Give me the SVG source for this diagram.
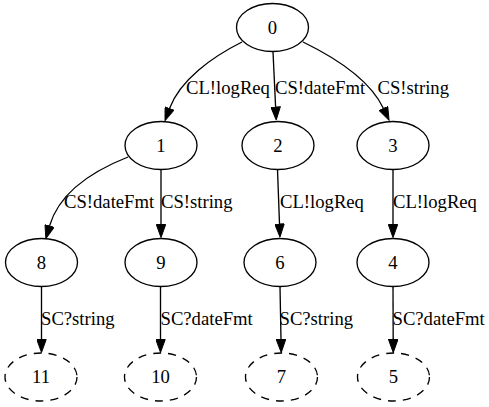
<svg xmlns="http://www.w3.org/2000/svg" width="489" height="407" viewBox="0 0 489 407" font-family="Liberation Serif, Times New Roman, DejaVu Serif, serif" font-size="18.67">
<defs>
<style>
.n ellipse{fill:none;stroke:#000;stroke-width:1.33}
.d ellipse{stroke-dasharray:8,7}
.n text{text-anchor:middle}
.e path{fill:none;stroke:#000;stroke-width:1.33;marker-end:url(#ah)}
</style>
<marker id="ah" markerUnits="userSpaceOnUse" viewBox="0 0 14 10" refX="0.5" refY="5" markerWidth="14" markerHeight="10" orient="auto">
<path d="M0.5,0.3 L13.5,5 L0.5,9.7 Z" fill="#000" stroke="#000" stroke-width="1"/>
</marker>
</defs>
<rect width="489" height="407" fill="#fff"/>
<g id="edges" class="e">
<path d="M242,42 C212,57 180,80 169.5,108.5"/>
<path d="M273,51.5 L275.6,107"/>
<path d="M303,42 C334,57 370,80 383.5,108.5"/>
<path d="M128,157 C95,170 60,190 49.5,226"/>
<path d="M161,169.5 L161,224.5"/>
<path d="M277.5,169.5 L279.5,224"/>
<path d="M393,169.5 L393,224.5"/>
<path d="M41.5,286.5 L41.5,339.5"/>
<path d="M160.5,286.5 L160.5,339.5"/>
<path d="M280,286.5 L281,339.5"/>
<path d="M393,286.5 L393.2,339.5"/>
</g>
<g id="labels" font-family="Liberation Serif, Times New Roman, DejaVu Serif, serif">
<text x="186" y="94">CL!logReq</text>
<text x="275" y="94">CS!dateFmt</text>
<text x="377.5" y="94">CS!string</text>
<text x="64" y="208">CS!dateFmt</text>
<text x="161" y="208">CS!string</text>
<text x="280" y="208">CL!logReq</text>
<text x="393" y="208">CL!logReq</text>
<text x="41" y="325">SC?string</text>
<text x="160.5" y="325">SC?dateFmt</text>
<text x="279.5" y="325">SC?string</text>
<text x="392.5" y="325">SC?dateFmt</text>
</g>
<g id="node0" class="n"><ellipse cx="272.5" cy="27.5" rx="36" ry="24"/><text x="272.5" y="33.5">0</text></g>
<g id="node1" class="n"><ellipse cx="161" cy="145.5" rx="36" ry="24"/><text x="161" y="151.5">1</text></g>
<g id="node2" class="n"><ellipse cx="278" cy="145.5" rx="36" ry="24"/><text x="278" y="151.5">2</text></g>
<g id="node3" class="n"><ellipse cx="393" cy="145.5" rx="36" ry="24"/><text x="393" y="151.5">3</text></g>
<g id="node8" class="n"><ellipse cx="41.5" cy="262.5" rx="36" ry="24"/><text x="41.5" y="268.5">8</text></g>
<g id="node9" class="n"><ellipse cx="161" cy="262.5" rx="36" ry="24"/><text x="161" y="268.5">9</text></g>
<g id="node6" class="n"><ellipse cx="280" cy="262.5" rx="36" ry="24"/><text x="280" y="268.5">6</text></g>
<g id="node4" class="n"><ellipse cx="393" cy="262.5" rx="36" ry="24"/><text x="393" y="268.5">4</text></g>
<g id="node11" class="n d"><ellipse cx="41" cy="377" rx="36" ry="24"/><text x="41" y="383">11</text></g>
<g id="node10" class="n d"><ellipse cx="160.5" cy="377" rx="36" ry="24"/><text x="160.5" y="383">10</text></g>
<g id="node7" class="n d"><ellipse cx="281.5" cy="377" rx="36" ry="24"/><text x="281.5" y="383">7</text></g>
<g id="node5" class="n d"><ellipse cx="393.5" cy="377" rx="36" ry="24"/><text x="393.5" y="383">5</text></g>
</svg>
